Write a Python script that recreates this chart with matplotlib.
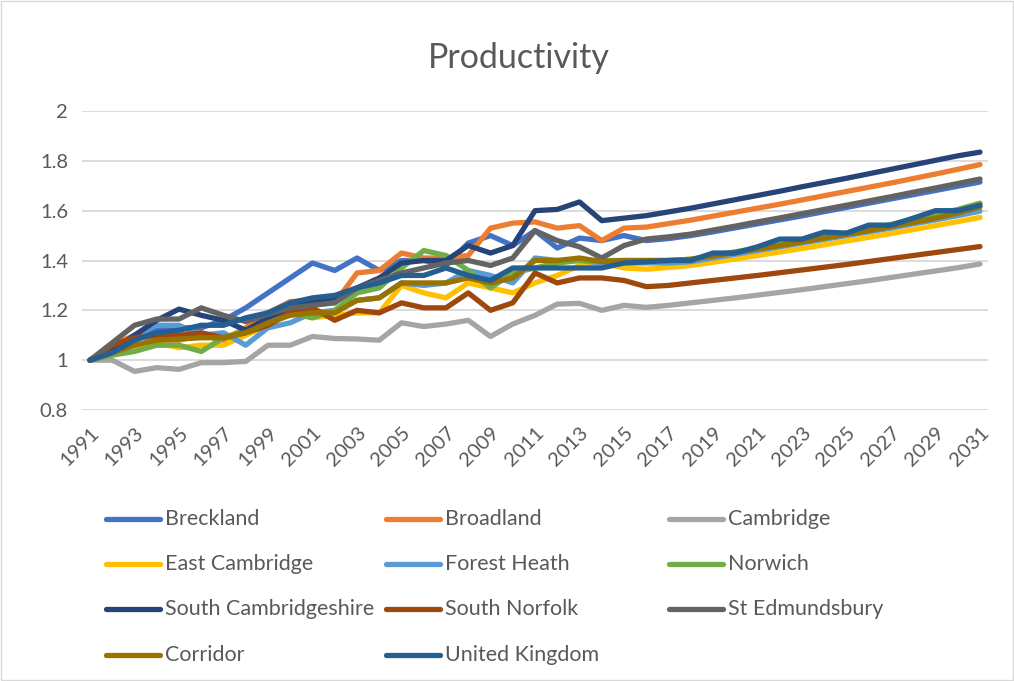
#!/usr/bin/env python3
"""Productivity index by district, 1991-2031."""

import numpy as np
import matplotlib.pyplot as plt
from matplotlib.lines import Line2D
from matplotlib.patches import Rectangle

years = np.arange(1991, 2032)

names = ['Breckland', 'Broadland', 'Cambridge', 'East Cambridge', 'Forest Heath',
         'Norwich', 'South Cambridgeshire', 'South Norfolk', 'St Edmundsbury',
         'Corridor', 'United Kingdom']

colors = ['#4472C4', '#ED7D31', '#A5A5A5', '#FFC000', '#5B9BD5', '#70AD47',
          '#264478', '#9E480E', '#636363', '#997300', '#255E91']

breckland = [1.0, 1.04, 1.10, 1.12, 1.13, 1.13, 1.16, 1.21, 1.27, 1.33, 1.39, 1.36, 1.41,
             1.36, 1.40, 1.40, 1.38, 1.47, 1.50, 1.46, 1.52, 1.45, 1.49, 1.48, 1.50,
             1.48, 1.488, 1.50, 1.515, 1.531, 1.547, 1.563, 1.579, 1.596, 1.613, 1.63,
             1.647, 1.664, 1.681, 1.698, 1.715]
broadland = [1.0, 1.06, 1.10, 1.08, 1.08, 1.10, 1.08, 1.13, 1.19, 1.235, 1.24, 1.23, 1.35,
             1.36, 1.43, 1.41, 1.41, 1.42, 1.53, 1.55, 1.555, 1.53, 1.54, 1.48, 1.53,
             1.534, 1.548, 1.562, 1.578, 1.594, 1.61, 1.626, 1.643, 1.66, 1.677, 1.694,
             1.711, 1.729, 1.747, 1.766, 1.785]
cambridge = [1.0, 1.0, 0.955, 0.97, 0.963, 0.99, 0.99, 0.995, 1.06, 1.06, 1.095, 1.087,
             1.085, 1.08, 1.15, 1.135, 1.145, 1.16, 1.095, 1.145, 1.18, 1.225, 1.228, 1.20,
             1.22, 1.212, 1.22, 1.23, 1.24, 1.25, 1.261, 1.272, 1.283, 1.295, 1.307,
             1.319, 1.332, 1.345, 1.358, 1.371, 1.386]
east_cambridge = [1.0, 1.03, 1.05, 1.07, 1.05, 1.06, 1.06, 1.10, 1.14, 1.19, 1.17, 1.18,
                  1.19, 1.19, 1.30, 1.27, 1.25, 1.31, 1.29, 1.27, 1.31, 1.34, 1.38, 1.39,
                  1.37, 1.365, 1.372, 1.38, 1.393, 1.406, 1.42, 1.434, 1.448, 1.463, 1.478,
                  1.493, 1.508, 1.524, 1.54, 1.556, 1.573]
forest_heath = [1.0, 1.04, 1.10, 1.14, 1.14, 1.10, 1.11, 1.06, 1.13, 1.15, 1.19, 1.20,
                1.24, 1.25, 1.31, 1.30, 1.31, 1.36, 1.34, 1.31, 1.41, 1.40, 1.40, 1.39,
                1.39, 1.39, 1.39, 1.395, 1.41, 1.425, 1.44, 1.455, 1.47, 1.485, 1.50,
                1.515, 1.53, 1.547, 1.563, 1.58, 1.598]
norwich = [1.0, 1.02, 1.035, 1.06, 1.06, 1.035, 1.09, 1.12, 1.16, 1.19, 1.17, 1.20, 1.27,
           1.29, 1.37, 1.44, 1.42, 1.36, 1.29, 1.35, 1.37, 1.39, 1.40, 1.40, 1.40,
           1.40, 1.40, 1.405, 1.42, 1.435, 1.45, 1.465, 1.48, 1.495, 1.51, 1.525, 1.545,
           1.565, 1.585, 1.605, 1.63]
south_cambs = [1.0, 1.04, 1.10, 1.16, 1.205, 1.18, 1.16, 1.12, 1.17, 1.21, 1.24, 1.25,
               1.29, 1.33, 1.39, 1.40, 1.40, 1.46, 1.43, 1.46, 1.60, 1.605, 1.635, 1.56,
               1.57, 1.58, 1.595, 1.61, 1.627, 1.644, 1.661, 1.678, 1.696, 1.713, 1.73,
               1.748, 1.766, 1.784, 1.802, 1.82, 1.835]
south_norfolk = [1.0, 1.06, 1.09, 1.10, 1.10, 1.11, 1.09, 1.11, 1.14, 1.19, 1.21, 1.16,
                 1.20, 1.19, 1.23, 1.21, 1.21, 1.27, 1.20, 1.23, 1.35, 1.31, 1.33, 1.33,
                 1.32, 1.295, 1.30, 1.31, 1.32, 1.33, 1.34, 1.351, 1.362, 1.373, 1.384,
                 1.396, 1.408, 1.42, 1.432, 1.444, 1.456]
st_edmundsbury = [1.0, 1.07, 1.14, 1.165, 1.165, 1.21, 1.18, 1.155, 1.185, 1.21, 1.22,
                  1.23, 1.29, 1.32, 1.35, 1.37, 1.39, 1.40, 1.38, 1.41, 1.52, 1.48, 1.455,
                  1.41, 1.46, 1.486, 1.495, 1.506, 1.522, 1.538, 1.555, 1.571, 1.588, 1.605,
                  1.622, 1.639, 1.656, 1.674, 1.691, 1.709, 1.727]
corridor = [1.0, 1.03, 1.06, 1.08, 1.085, 1.09, 1.09, 1.11, 1.15, 1.18, 1.19, 1.19, 1.24,
            1.25, 1.31, 1.31, 1.31, 1.33, 1.31, 1.33, 1.40, 1.40, 1.41, 1.395, 1.40,
            1.40, 1.40, 1.405, 1.418, 1.432, 1.446, 1.46, 1.475, 1.49, 1.505, 1.52, 1.536,
            1.553, 1.57, 1.59, 1.615]
united_kingdom = [1.0, 1.03, 1.08, 1.11, 1.12, 1.14, 1.14, 1.17, 1.19, 1.23, 1.25, 1.26,
                  1.29, 1.31, 1.34, 1.34, 1.37, 1.34, 1.32, 1.37, 1.37, 1.37, 1.37, 1.37,
                  1.39, 1.395, 1.40, 1.40, 1.43, 1.43, 1.455, 1.486, 1.486, 1.514, 1.51,
                  1.542, 1.542, 1.57, 1.60, 1.60, 1.622]

series = [breckland, broadland, cambridge, east_cambridge, forest_heath, norwich,
          south_cambs, south_norfolk, st_edmundsbury, corridor, united_kingdom]

text_color = '#595959'
font = 'Lato'

fig = plt.figure(figsize=(10.14, 6.81), dpi=100)
ax = fig.add_axes([82 / 1014, 1 - 410 / 681, 906 / 1014, 299 / 681])

for vals, c in zip(series, colors):
    ax.plot(years, vals, color=c, lw=3.8, solid_capstyle='round', solid_joinstyle='round')

ax.set_xlim(1991 - 0.36, 2031 + 0.36)
ax.set_ylim(0.8, 2.0)
ax.set_yticks(np.arange(0.8, 2.01, 0.2))
ax.set_yticklabels(['0.8', '1', '1.2', '1.4', '1.6', '1.8', '2'])
ax.set_xticks(years[::2])
ax.set_xticklabels([str(y) for y in years[::2]], rotation=45, ha='right',
                   rotation_mode='anchor')
ax.grid(axis='y', color='#D9D9D9', lw=1.3)
ax.set_axisbelow(True)
for s in ax.spines.values():
    s.set_visible(False)
ax.tick_params(length=0, colors=text_color, labelsize=14.5, pad=10)
for lab in ax.get_xticklabels() + ax.get_yticklabels():
    lab.set_fontfamily(font)

fig.text(0.512, 1 - 58 / 681, 'Productivity', ha='center', va='center',
         fontsize=24.5, color=text_color, family=font)

# legend, three equal columns like Excel
col_x = [106, 386, 669]
row_y = [519, 564, 609, 655]
for i, (name, c) in enumerate(zip(names, colors)):
    x0 = col_x[i % 3]
    y0 = 1 - row_y[i // 3] / 681
    fig.add_artist(Line2D([x0 / 1014, (x0 + 54) / 1014], [y0, y0], color=c, lw=3.8,
                          solid_capstyle='round'))
    fig.text((x0 + 59) / 1014, y0, name, ha='left', va='center', fontsize=15.5,
             color=text_color, family=font)

fig.add_artist(Rectangle((0.001, 0.001), 0.998, 0.998, transform=fig.transFigure,
                         fill=False, edgecolor='#D9D9D9', lw=1))

fig.savefig('out.png', dpi=100)
